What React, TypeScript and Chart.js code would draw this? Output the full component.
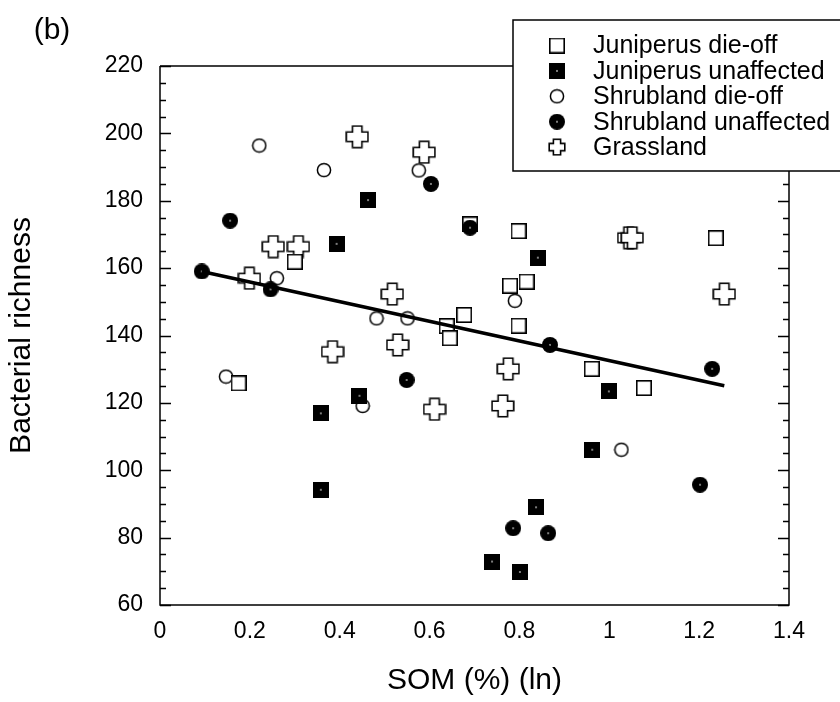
import React, { useEffect, useRef } from 'react';
import { Chart, registerables } from 'chart.js';

Chart.register(...registerables);

// ---- data ----
const seriesNames = [
  'Juniperus die-off',
  'Juniperus unaffected',
  'Shrubland die-off',
  'Shrubland unaffected',
  'Grassland',
];

const juniperusDieOffX = [0.175, 0.3, 0.69, 0.638, 0.645, 0.677, 0.779, 0.816, 0.798, 0.798, 0.961, 1.077, 1.237];
const juniperusDieOffY = [125.8, 161.9, 173.0, 142.8, 139.2, 146.1, 154.8, 156.0, 171.0, 142.9, 130.1, 124.4, 168.9];

const juniperusUnaffectedX = [0.463, 0.393, 0.841, 0.444, 0.358, 0.358, 0.999, 0.962, 0.837, 0.739, 0.801];
const juniperusUnaffectedY = [180.2, 167.2, 163.1, 122.1, 116.9, 94.2, 123.4, 106.1, 89.0, 72.9, 69.8];

const shrublandDieOffX = [0.221, 0.365, 0.576, 0.26, 0.482, 0.551, 0.147, 0.451, 0.79, 1.027];
const shrublandDieOffY = [196.4, 189.1, 189.0, 157.0, 145.1, 145.1, 127.8, 119.1, 150.3, 106.1];

const shrublandUnaffectedX = [0.093, 0.156, 0.246, 0.603, 0.69, 0.549, 0.868, 1.229, 1.202, 0.786, 0.864];
const shrublandUnaffectedY = [159.0, 174.1, 153.7, 185.0, 172.0, 126.8, 137.2, 130.1, 95.7, 82.8, 81.3];

const grasslandX = [0.439, 0.588, 0.252, 0.308, 0.199, 0.517, 0.384, 0.529, 0.611, 0.775, 0.763, 1.043, 1.051, 1.256];
const grasslandY = [199.0, 194.4, 166.4, 166.4, 157.0, 152.3, 135.2, 137.2, 118.1, 130.1, 119.1, 169.0, 169.0, 152.3];

const regressionX = [0.093, 1.256];
const regressionY = [159.0, 125.1];

const xTickValues = [0, 0.2, 0.4, 0.6, 0.8, 1, 1.2, 1.4];
const xTickLabels = ['0', '0.2', '0.4', '0.6', '0.8', '1', '1.2', '1.4'];
const yTickValues = [60, 80, 100, 120, 140, 160, 180, 200, 220];
const yTickLabels = ['60', '80', '100', '120', '140', '160', '180', '200', '220'];
const yMinorStep = 5;

const xTitle = 'SOM (%) (ln)';
const yTitle = 'Bacterial richness';
const panelLabel = '(b)';

const FONT = '"Liberation Sans", Arial, Helvetica, sans-serif';

function toPoints(xs: number[], ys: number[]) {
  return xs.map((x, i) => ({ x, y: ys[i] }));
}

function makeMarker(kind: string): HTMLCanvasElement {
  const c = document.createElement('canvas');
  const ctx = c.getContext('2d') as CanvasRenderingContext2D;
  ctx.strokeStyle = '#000';
  if (kind === 'openSquare') {
    c.width = 16; c.height = 16;
    const g = c.getContext('2d') as CanvasRenderingContext2D;
    g.fillStyle = '#fff';
    g.fillRect(1, 1, 14, 14);
    g.lineWidth = 1.6;
    g.strokeStyle = '#000';
    g.strokeRect(0.8, 0.8, 14.4, 14.4);
  } else if (kind === 'filledSquare') {
    c.width = 16; c.height = 16;
    const g = c.getContext('2d') as CanvasRenderingContext2D;
    g.fillStyle = '#000';
    g.fillRect(0, 0, 16, 16);
    g.fillStyle = '#fff';
    g.fillRect(7.3, 7.3, 1.4, 1.4);
  } else if (kind === 'openCircle') {
    c.width = 16; c.height = 16;
    const g = c.getContext('2d') as CanvasRenderingContext2D;
    g.beginPath();
    g.arc(8, 8, 6.6, 0, Math.PI * 2);
    g.fillStyle = '#fff';
    g.fill();
    g.lineWidth = 1.5;
    g.strokeStyle = '#000';
    g.stroke();
  } else if (kind === 'filledCircle') {
    c.width = 16; c.height = 16;
    const g = c.getContext('2d') as CanvasRenderingContext2D;
    g.beginPath();
    g.arc(8, 8, 8, 0, Math.PI * 2);
    g.fillStyle = '#000';
    g.fill();
    g.fillStyle = '#fff';
    g.fillRect(7.3, 7.3, 1.4, 1.4);
  } else if (kind === 'cross' || kind === 'crossSmall') {
    const s = kind === 'cross' ? 24 : 18;
    c.width = s; c.height = s;
    const g = c.getContext('2d') as CanvasRenderingContext2D;
    const m = s / 2;
    const o = m - 1.2; // outer half extent
    const a = kind === 'cross' ? 4.7 : 3.6; // arm half width
    g.beginPath();
    g.moveTo(m - a, m - o);
    g.lineTo(m + a, m - o);
    g.lineTo(m + a, m - a);
    g.lineTo(m + o, m - a);
    g.lineTo(m + o, m + a);
    g.lineTo(m + a, m + a);
    g.lineTo(m + a, m + o);
    g.lineTo(m - a, m + o);
    g.lineTo(m - a, m + a);
    g.lineTo(m - o, m + a);
    g.lineTo(m - o, m - a);
    g.lineTo(m - a, m - a);
    g.closePath();
    g.fillStyle = '#fff';
    g.fill();
    g.lineWidth = 1.6;
    g.strokeStyle = '#000';
    g.stroke();
  }
  return c;
}

export default function App() {
  const canvasRef = useRef<HTMLCanvasElement | null>(null);

  useEffect(() => {
    const canvas = canvasRef.current;
    if (!canvas) return;

    const mOpenSq = makeMarker('openSquare');
    const mFillSq = makeMarker('filledSquare');
    const mOpenCi = makeMarker('openCircle');
    const mFillCi = makeMarker('filledCircle');
    const mCross = makeMarker('cross');
    const mCrossSmall = makeMarker('crossSmall');
    const legendMarkers = [mOpenSq, mFillSq, mOpenCi, mFillCi, mCrossSmall];

    const framePlugin = {
      id: 'frame',
      beforeDatasetsDraw(chart: any) {
        const { ctx, chartArea } = chart;
        const y = chart.scales.y;
        const { left, right, top, bottom } = chartArea;
        ctx.save();
        ctx.strokeStyle = '#000';
        ctx.lineWidth = 1.5;
        ctx.beginPath();
        ctx.moveTo(left, top);
        ctx.lineTo(left, bottom);
        ctx.lineTo(right, bottom);
        ctx.lineTo(right, top);
        ctx.lineTo(left, top);
        ctx.stroke();
        ctx.lineWidth = 1.3;
        ctx.beginPath();
        for (let v = y.min; v <= y.max + 1e-9; v += yMinorStep) {
          const isMajor = yTickValues.indexOf(v) >= 0;
          const len = isMajor ? 11 : 6;
          const py = Math.round(y.getPixelForValue(v)) + 0.5;
          ctx.moveTo(left, py);
          ctx.lineTo(left + len, py);
          ctx.moveTo(right, py);
          ctx.lineTo(right - len, py);
        }
        ctx.stroke();
        ctx.restore();
      },
      afterDraw(chart: any) {
        const { ctx } = chart;
        ctx.save();
        // panel label
        ctx.fillStyle = '#000';
        ctx.font = '30px ' + FONT;
        ctx.textAlign = 'center';
        ctx.textBaseline = 'middle';
        ctx.fillText(panelLabel, 52, 31);
        // legend box
        const bx = 513, by = 20, bb = 171;
        ctx.fillStyle = '#fff';
        ctx.fillRect(bx, by, 340, bb - by);
        ctx.strokeStyle = '#000';
        ctx.lineWidth = 1.5;
        ctx.beginPath();
        ctx.moveTo(850, by);
        ctx.lineTo(bx, by);
        ctx.lineTo(bx, bb);
        ctx.lineTo(850, bb);
        ctx.stroke();
        ctx.font = '25px ' + FONT;
        ctx.textAlign = 'left';
        ctx.textBaseline = 'middle';
        ctx.fillStyle = '#000';
        const rowTop = 45.5;
        const rowStep = 25.4;
        seriesNames.forEach((name, i) => {
          const ry = rowTop + i * rowStep;
          const mk = legendMarkers[i];
          ctx.drawImage(mk, 557 - mk.width / 2, ry - mk.height / 2);
          ctx.fillText(name, 593, ry + 1);
        });
        ctx.restore();
      },
    };

    const chart = new Chart(canvas, {
      type: 'scatter',
      data: {
        datasets: [
          {
            label: 'regression',
            data: toPoints(regressionX, regressionY),
            showLine: true,
            borderColor: '#000',
            borderWidth: 3.5,
            pointRadius: 0,
            order: 0,
          } as any,
          {
            label: seriesNames[1],
            data: toPoints(juniperusUnaffectedX, juniperusUnaffectedY),
            pointStyle: mFillSq,
            pointRadius: 8,
            order: 1,
          },
          {
            label: seriesNames[3],
            data: toPoints(shrublandUnaffectedX, shrublandUnaffectedY),
            pointStyle: mFillCi,
            pointRadius: 8,
            order: 2,
          },
          {
            label: seriesNames[0],
            data: toPoints(juniperusDieOffX, juniperusDieOffY),
            pointStyle: mOpenSq,
            pointRadius: 8,
            order: 3,
          },
          {
            label: seriesNames[4],
            data: toPoints(grasslandX, grasslandY),
            pointStyle: mCross,
            pointRadius: 8,
            order: 4,
          },
          {
            label: seriesNames[2],
            data: toPoints(shrublandDieOffX, shrublandDieOffY),
            pointStyle: mOpenCi,
            pointRadius: 8,
            order: 5,
          },
        ],
      },
      options: {
        responsive: false,
        animation: false,
        devicePixelRatio: 1,
        layout: { padding: { top: 66, right: 51, left: 0, bottom: 0 } },
        plugins: {
          legend: { display: false },
          tooltip: { enabled: false },
        },
        scales: {
          x: {
            type: 'linear',
            min: 0,
            max: 1.4,
            grid: { display: false, drawTicks: false },
            border: { display: false },
            afterBuildTicks: (s: any) => {
              s.ticks = xTickValues.map((v) => ({ value: v }));
            },
            afterFit: (s: any) => {
              s.height = 97;
            },
            ticks: {
              padding: 13,
              color: '#000',
              font: { size: 23, family: FONT },
              maxRotation: 0,
              autoSkip: false,
              callback: (_v: any, i: number) => xTickLabels[i],
            },
            title: {
              display: true,
              text: xTitle,
              color: '#000',
              font: { size: 30, family: FONT },
              padding: { top: 0, bottom: 3 },
            },
          },
          y: {
            type: 'linear',
            min: 60,
            max: 220,
            grid: { display: false, drawTicks: false },
            border: { display: false },
            afterBuildTicks: (s: any) => {
              s.ticks = yTickValues.map((v) => ({ value: v }));
            },
            afterFit: (s: any) => {
              s.width = 160;
            },
            ticks: {
              padding: 17,
              color: '#000',
              font: { size: 23, family: FONT },
              autoSkip: false,
              callback: (_v: any, i: number) => yTickLabels[i],
            },
            title: {
              display: true,
              text: yTitle,
              color: '#000',
              font: { size: 30, family: FONT },
              padding: { top: 4, bottom: 0 },
            },
          },
        },
      } as any,
      plugins: [framePlugin],
    });

    return () => {
      chart.destroy();
    };
  }, []);

  return (
    <div style={{ position: 'absolute', left: 0, top: 0, width: 840, height: 702, background: '#fff' }}>
      <canvas ref={canvasRef} width={840} height={702} style={{ display: 'block' }} />
    </div>
  );
}
